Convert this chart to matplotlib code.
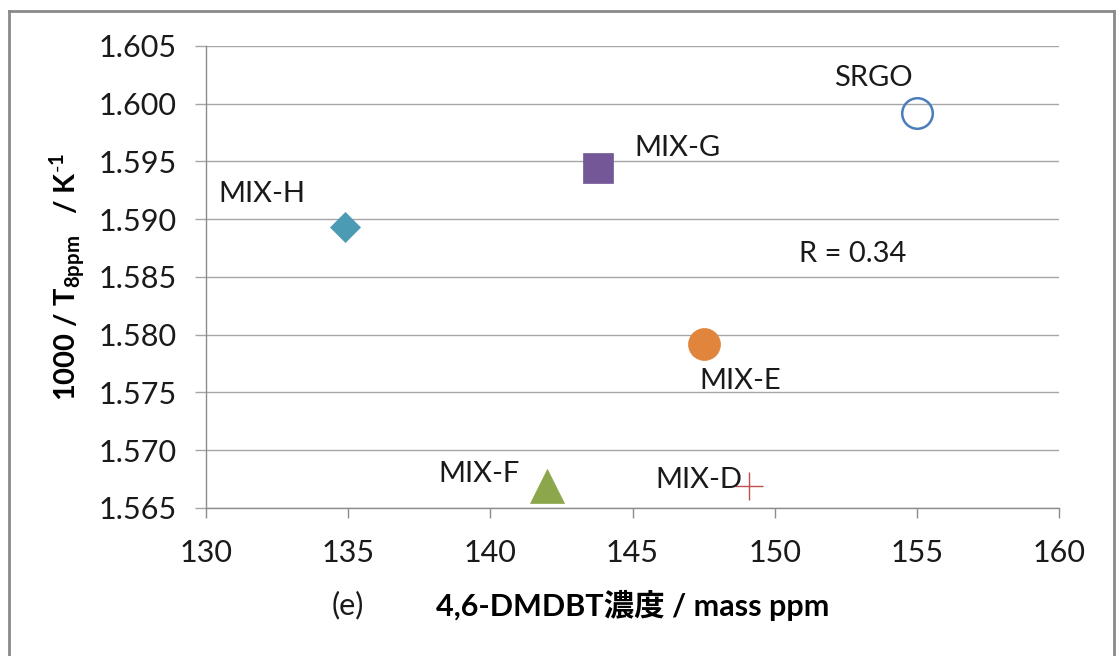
import matplotlib
matplotlib.use("Agg")
import matplotlib.pyplot as plt
from matplotlib.lines import Line2D

# Sample data: 4,6-DMDBT concentration vs 1000/T(8ppm)
names = ["SRGO", "MIX-G", "MIX-H", "MIX-E", "MIX-F", "MIX-D"]
conc_ppm = [155.0, 143.8, 134.9, 147.5, 142.0, 149.1]
inv_temp = [1.5992, 1.5944, 1.5893, 1.5792, 1.5669, 1.5669]
r_value = 0.34

x_ticks = [130, 135, 140, 145, 150, 155, 160]
y_ticks = [1.565, 1.570, 1.575, 1.580, 1.585, 1.590, 1.595, 1.600, 1.605]

# marker style per sample: (marker, size, face, edge, edge width)
styles = {
    "SRGO":  ("o", 22, "none",    "#4a7ebb", 1.8),
    "MIX-G": ("s", 22, "#735797", "#735797", 0.5),
    "MIX-H": ("D", 15.5, "#4a9bb3", "#4a9bb3", 0.5),
    "MIX-E": ("o", 23, "#e0853b", "#e0853b", 0.5),
    "MIX-F": ("^", 25, "#8ba64b", "#8ba64b", 0.5),
    "MIX-D": ("+", 20, "#c0504d", "#c0504d", 1.0),
}
# label offsets from each marker, in points
offsets = {
    "SRGO":  (-31, 25),
    "MIX-G": (57, 15),
    "MIX-H": (-60, 24),
    "MIX-E": (26, -27),
    "MIX-F": (-49, 9),
    "MIX-D": (-36, 4),
}

FONT = ["Lato", "Noto Sans CJK JP", "DejaVu Sans"]
plt.rcParams["font.family"] = FONT
plt.rcParams["mathtext.fontset"] = "custom"
plt.rcParams["mathtext.rm"] = "Lato"
plt.rcParams["mathtext.bf"] = "Lato:bold"

fig = plt.figure(figsize=(11.2, 6.56), dpi=100)
ax = fig.add_axes([206 / 1120, 1 - 508 / 656, (1059 - 206) / 1120, (508 - 46) / 656])

for n, x, y in zip(names, conc_ppm, inv_temp):
    m, ms, fc, ec, ew = styles[n]
    ax.plot([x], [y], linestyle="none", marker=m, markersize=ms,
            markerfacecolor=fc, markeredgecolor=ec, markeredgewidth=ew,
            zorder=3, clip_on=False)
    ax.annotate(n, (x, y), xytext=offsets[n], textcoords="offset points",
                ha="center", va="center", fontsize=21, color="#1a1a1a",
                zorder=4)

ax.text(0.758, 0.55, f"R = {r_value}", transform=ax.transAxes,
        ha="center", va="center", fontsize=21, color="#1a1a1a")

ax.set_xlim(x_ticks[0], x_ticks[-1])
ax.set_ylim(y_ticks[0], y_ticks[-1])
ax.set_xticks(x_ticks)
ax.set_yticks(y_ticks)
ax.set_yticklabels([f"{v:.3f}" for v in y_ticks])

ax.grid(axis="y", color="#a6a6a6", linewidth=1.0)
ax.set_axisbelow(True)
for s in ["top", "right"]:
    ax.spines[s].set_visible(False)
for s in ["left", "bottom"]:
    ax.spines[s].set_color("#8c8c8c")
    ax.spines[s].set_linewidth(1.0)

ax.tick_params(axis="x", direction="out", length=7, width=1, color="#8c8c8c",
               pad=15, labelsize=22, labelcolor="#1a1a1a")
ax.tick_params(axis="y", direction="out", length=8, width=1, color="#a6a6a6",
               pad=13, labelsize=22, labelcolor="#1a1a1a")

ax.set_ylabel(r"1000 / T$_{\mathbf{8ppm}}$   / K$^{\mathbf{\text{-}1}}$",
              fontsize=21, fontweight="bold", labelpad=8)

fig.text(632.5 / 1120, 1 - 605 / 656, "4,6-DMDBT濃度 / mass ppm",
         ha="center", va="center", fontsize=22, fontweight="bold",
         family=FONT, color="#000000")
fig.text(348 / 1120, 1 - 605 / 656, "(e)", ha="center", va="center",
         fontsize=22, family=FONT, color="#1a1a1a")

# outer chart frame
frame_kw = dict(color="#8a8a8a", linewidth=2.0, transform=fig.transFigure)
L, R, T = 9 / 1120, 1114 / 1120, 1 - 10.5 / 656
fig.add_artist(Line2D([L, L], [-0.1, T], **frame_kw))
fig.add_artist(Line2D([L, R], [T, T], **frame_kw))
fig.add_artist(Line2D([R, R], [-0.1, T], **frame_kw))

fig.savefig("out.png", dpi=100)
